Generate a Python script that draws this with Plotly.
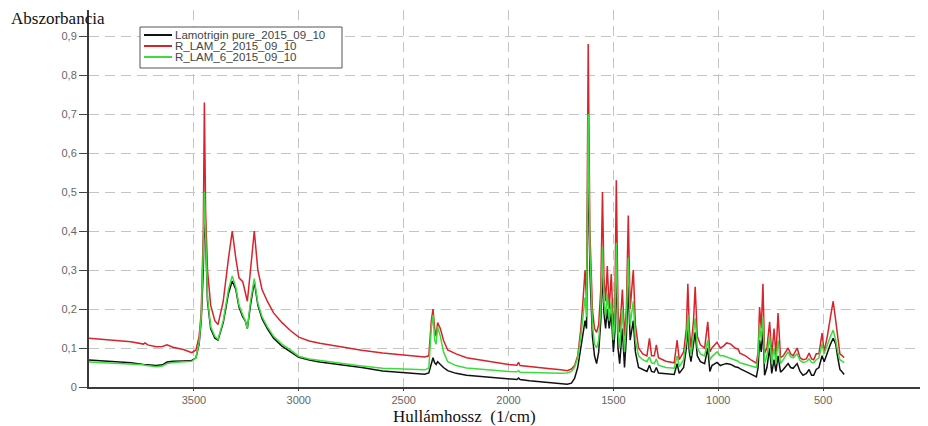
import plotly.graph_objects as go

# ---- data ----
wavenumber = [
    4000, 3900, 3800, 3740, 3733, 3720, 3680, 3650, 3628, 3600, 3550, 3510, 3490, 3475, 3465,
    3455, 3450, 3444, 3435, 3420, 3400, 3385, 3360, 3335, 3317, 3300, 3285, 3267, 3255, 3245,
    3230, 3212, 3195, 3175, 3150, 3120, 3080, 3040, 3000, 2950, 2900, 2800, 2700, 2600, 2500,
    2400, 2380, 2368, 2360, 2352, 2345, 2338, 2325, 2310, 2290, 2250, 2200, 2100, 2000, 1960,
    1952, 1945, 1900, 1850, 1800, 1750, 1720, 1700, 1685, 1670, 1655, 1645, 1635, 1628, 1620,
    1612, 1600, 1590, 1580, 1570, 1560, 1552, 1545, 1537, 1529, 1520, 1510, 1500, 1493, 1486,
    1478, 1470, 1457, 1447, 1438, 1429, 1420, 1405, 1395, 1380, 1360, 1340, 1328, 1318, 1305,
    1295, 1285, 1250, 1210, 1196, 1186, 1165, 1152, 1145, 1138, 1130, 1118, 1110, 1100, 1085,
    1065, 1050, 1040, 1030, 1006, 990, 975, 960, 940, 920, 905, 897, 870, 840, 818,
    810, 803, 795, 787, 779, 768, 755, 745, 734, 725, 715, 703, 690, 667, 655,
    643, 624, 610, 596, 580, 567, 555, 545, 533, 520, 505, 495, 480, 465, 452,
    440, 430, 420, 408, 400,
]

lamotrigin_pure = [
    0.069, 0.066, 0.062, 0.058, 0.058, 0.057, 0.055, 0.057, 0.064, 0.066, 0.067, 0.068, 0.075, 0.11, 0.17,
    0.30, 0.45, 0.38, 0.22, 0.15, 0.125, 0.12, 0.165, 0.24, 0.272, 0.25, 0.205, 0.18, 0.17, 0.15,
    0.21, 0.27, 0.21, 0.175, 0.15, 0.125, 0.105, 0.09, 0.076, 0.069, 0.064, 0.057, 0.050, 0.041, 0.037,
    0.033, 0.036, 0.06, 0.075, 0.062, 0.058, 0.065, 0.058, 0.05, 0.042, 0.035, 0.030, 0.025, 0.021, 0.019,
    0.023, 0.019, 0.016, 0.013, 0.010, 0.008, 0.007, 0.010, 0.022, 0.05, 0.10, 0.14, 0.17, 0.15, 0.60,
    0.30, 0.13, 0.08, 0.06, 0.09, 0.17, 0.30, 0.19, 0.15, 0.20, 0.15, 0.19, 0.09, 0.14, 0.30,
    0.10, 0.06, 0.15, 0.05, 0.13, 0.26, 0.12, 0.17, 0.09, 0.05, 0.045, 0.04, 0.056, 0.04, 0.038,
    0.05, 0.036, 0.034, 0.032, 0.06, 0.035, 0.05, 0.10, 0.15, 0.09, 0.065, 0.11, 0.14, 0.08, 0.065,
    0.06, 0.10, 0.04, 0.055, 0.063, 0.055, 0.058, 0.06, 0.058, 0.052, 0.05, 0.047, 0.04, 0.032, 0.026,
    0.05, 0.12, 0.09, 0.15, 0.03, 0.05, 0.10, 0.035, 0.07, 0.04, 0.08, 0.038, 0.045, 0.06, 0.05,
    0.048, 0.06, 0.04, 0.03, 0.035, 0.045, 0.03, 0.03, 0.045, 0.05, 0.08, 0.065, 0.09, 0.11, 0.125,
    0.11, 0.075, 0.045, 0.038, 0.032,
]

r_lam_2 = [
    0.125, 0.121, 0.116, 0.110, 0.113, 0.108, 0.103, 0.104, 0.108, 0.102, 0.096, 0.088, 0.095, 0.13, 0.19,
    0.40, 0.73, 0.45, 0.30, 0.21, 0.17, 0.16, 0.22, 0.33, 0.40, 0.33, 0.28, 0.27, 0.245, 0.22,
    0.30, 0.40, 0.30, 0.25, 0.22, 0.19, 0.165, 0.145, 0.128, 0.118, 0.112, 0.103, 0.094, 0.087, 0.082,
    0.077, 0.08, 0.17, 0.20, 0.15, 0.13, 0.165, 0.15, 0.12, 0.095, 0.085, 0.075, 0.066, 0.058, 0.056,
    0.063, 0.055, 0.052, 0.050, 0.047, 0.044, 0.042, 0.046, 0.055, 0.08, 0.15, 0.22, 0.30, 0.22, 0.88,
    0.40, 0.20, 0.15, 0.14, 0.16, 0.25, 0.50, 0.28, 0.22, 0.31, 0.20, 0.29, 0.15, 0.20, 0.53,
    0.20, 0.14, 0.25, 0.13, 0.20, 0.44, 0.20, 0.30, 0.16, 0.10, 0.085, 0.08, 0.125, 0.08, 0.08,
    0.108, 0.075, 0.066, 0.062, 0.12, 0.07, 0.09, 0.15, 0.265, 0.15, 0.10, 0.17, 0.257, 0.13, 0.108,
    0.10, 0.167, 0.09, 0.10, 0.115, 0.10, 0.105, 0.113, 0.11, 0.10, 0.097, 0.087, 0.08, 0.068, 0.061,
    0.09, 0.205, 0.15, 0.265, 0.087, 0.10, 0.167, 0.08, 0.15, 0.08, 0.19, 0.075, 0.08, 0.10, 0.085,
    0.08, 0.10, 0.075, 0.07, 0.072, 0.087, 0.072, 0.07, 0.085, 0.085, 0.138, 0.09, 0.13, 0.18, 0.22,
    0.17, 0.12, 0.085, 0.08, 0.075,
]

r_lam_6 = [
    0.064, 0.062, 0.059, 0.057, 0.056, 0.055, 0.052, 0.054, 0.060, 0.063, 0.065, 0.066, 0.075, 0.115, 0.18,
    0.35, 0.50, 0.40, 0.23, 0.155, 0.13, 0.122, 0.17, 0.25, 0.285, 0.255, 0.21, 0.185, 0.17, 0.15,
    0.22, 0.278, 0.215, 0.18, 0.155, 0.13, 0.11, 0.095, 0.079, 0.072, 0.068, 0.061, 0.054, 0.048, 0.046,
    0.044, 0.048, 0.15, 0.185, 0.12, 0.11, 0.155, 0.13, 0.09, 0.065, 0.055, 0.049, 0.044, 0.040, 0.039,
    0.042, 0.038, 0.037, 0.036, 0.035, 0.035, 0.036, 0.040, 0.050, 0.075, 0.13, 0.18, 0.23, 0.18, 0.70,
    0.35, 0.16, 0.11, 0.10, 0.12, 0.20, 0.36, 0.22, 0.18, 0.24, 0.17, 0.22, 0.12, 0.17, 0.37,
    0.14, 0.10, 0.20, 0.09, 0.17, 0.33, 0.16, 0.22, 0.12, 0.08, 0.07, 0.065, 0.077, 0.062, 0.06,
    0.072, 0.056, 0.05, 0.048, 0.08, 0.052, 0.07, 0.12, 0.185, 0.11, 0.08, 0.13, 0.177, 0.10, 0.085,
    0.08, 0.12, 0.07, 0.078, 0.09, 0.08, 0.08, 0.077, 0.075, 0.07, 0.066, 0.062, 0.058, 0.054, 0.050,
    0.08, 0.16, 0.12, 0.18, 0.06, 0.08, 0.13, 0.06, 0.10, 0.06, 0.12, 0.06, 0.07, 0.09, 0.078,
    0.075, 0.085, 0.068, 0.063, 0.065, 0.072, 0.063, 0.062, 0.07, 0.075, 0.11, 0.085, 0.11, 0.13, 0.146,
    0.12, 0.09, 0.07, 0.066, 0.062,
]

series_names = ["Lamotrigin pure_2015_09_10", "R_LAM_2_2015_09_10", "R_LAM_6_2015_09_10"]
series_values = [lamotrigin_pure, r_lam_2, r_lam_6]
series_colors = ["#111111", "#d8232a", "#3ddc3d"]

x_tick_vals = [3500, 3000, 2500, 2000, 1500, 1000, 500, 0]
x_tick_text = ["3500", "3000", "2500", "2000", "1500", "1000", "500", "0"]
y_tick_vals = [0, 0.1, 0.2, 0.3, 0.4, 0.5, 0.6, 0.7, 0.8, 0.9]
y_tick_text = ["0", "0,1", "0,2", "0,3", "0,4", "0,5", "0,6", "0,7", "0,8", "0,9"]

y_title = "Abszorbancia"
x_title = "Hullámhossz\u00a0\u00a0(1/cm)"

# ---- figure (page body adds an 8px offset) ----
OFF = 8
PLOT_L, PLOT_R, PLOT_T, PLOT_B = 89, 928, 10, 387   # target plot area in window pixels
W, H = 928 - OFF, 426 - OFF
ML, MT = PLOT_L - OFF, PLOT_T - OFF
MR = (OFF + W) - PLOT_R
MB = (OFF + H) - PLOT_B
PW, PH = PLOT_R - PLOT_L, PLOT_B - PLOT_T


def px_to_paper(px, py):
    return (px - PLOT_L) / PW, (PLOT_B - py) / PH


fig = go.Figure()
for name, vals, col in zip(series_names, series_values, series_colors):
    fig.add_trace(go.Scatter(x=wavenumber, y=vals, mode="lines", name=name,
                             line=dict(color=col, width=1.5), showlegend=False))

fig.update_layout(
    width=W, height=H,
    margin=dict(l=ML, r=MR, t=MT, b=MB, pad=0),
    paper_bgcolor="white", plot_bgcolor="white",
    font=dict(family="Liberation Sans, Arial, sans-serif", size=11, color="#666666"),
    showlegend=False,
)
grid = dict(showgrid=True, gridcolor="#c4c4c4", gridwidth=1.2, griddash="10px,6px")
fig.update_xaxes(range=[4000, 0], tickvals=x_tick_vals, ticktext=x_tick_text,
                 ticks="outside", ticklen=2, tickcolor="#444", tickwidth=1,
                 showline=True, linecolor="#3a3a3a", linewidth=2, zeroline=False,
                 tickfont=dict(size=11, color="#666"), **grid)
fig.update_yaxes(range=[0, 0.967], tickvals=y_tick_vals, ticktext=y_tick_text,
                 ticks="outside", ticklen=8, tickcolor="#444", tickwidth=1,
                 showline=True, linecolor="#3a3a3a", linewidth=2, zeroline=False,
                 tickfont=dict(size=11, color="#666"), **grid)

# axis titles
serif = "Liberation Serif, Times New Roman, serif"
tx, ty = px_to_paper(9, 18)
fig.add_annotation(text=y_title, xref="paper", yref="paper", x=tx, y=ty,
                   xanchor="left", yanchor="middle", showarrow=False,
                   font=dict(family=serif, size=17, color="#111"))
tx, ty = px_to_paper(464, 416)
fig.add_annotation(text=x_title, xref="paper", yref="paper", x=tx, y=ty,
                   xanchor="center", yanchor="middle", showarrow=False,
                   font=dict(family=serif, size=17, color="#111"))

# legend box
x0, y0 = px_to_paper(140, 68)
x1, y1 = px_to_paper(342, 27)
fig.add_shape(type="rect", xref="paper", yref="paper", x0=x0, y0=y0, x1=x1, y1=y1,
              line=dict(color="#555", width=1), fillcolor="white", layer="above")
rows_y = [35, 46, 57]
for name, col, ry in zip(series_names, series_colors, rows_y):
    lx0, ly = px_to_paper(144, ry)
    lx1, _ = px_to_paper(172, ry)
    fig.add_shape(type="line", xref="paper", yref="paper", x0=lx0, x1=lx1, y0=ly, y1=ly,
                  line=dict(color=col, width=2), layer="above")
    tx, ty = px_to_paper(173, ry)
    fig.add_annotation(text=name, xref="paper", yref="paper", x=tx, y=ty,
                       xanchor="left", yanchor="middle", showarrow=False,
                       font=dict(family="Liberation Sans, Arial, sans-serif", size=11.5, color="#444"))

fig.write_html("out.html")
